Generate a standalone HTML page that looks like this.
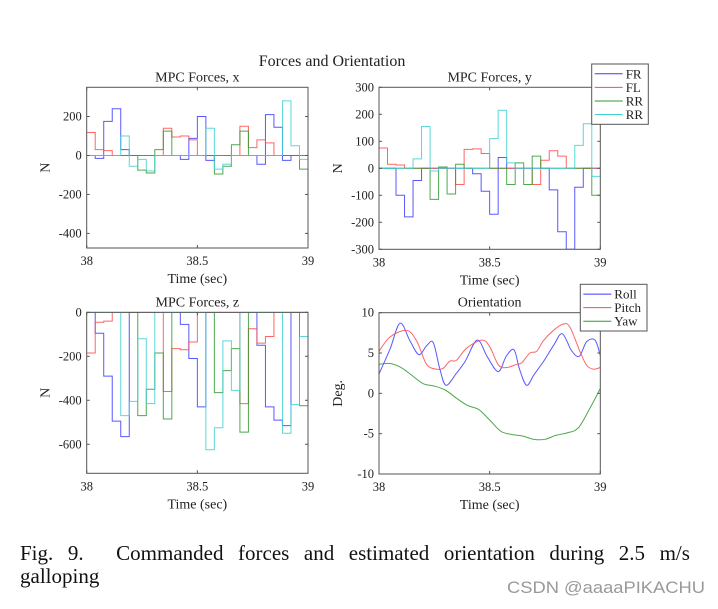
<!DOCTYPE html>
<html><head><meta charset="utf-8">
<style>
body{margin:0;background:#fff;width:718px;height:604px;overflow:hidden;font-family:"Liberation Serif",serif;position:relative;}
svg text{font-family:"Liberation Serif",serif;fill:#222;}
.cap{position:absolute;left:20px;width:670px;font-size:21px;line-height:23px;color:#111;white-space:nowrap;}
</style></head>
<body>
<svg id="fig" width="718" height="604" xmlns="http://www.w3.org/2000/svg">
<text x="332" y="66" font-size="16" text-anchor="middle">Forces and Orientation</text>
<text x="507" y="593" font-size="16.5" textLength="198" lengthAdjust="spacingAndGlyphs" style="font-family:'Liberation Sans',sans-serif;fill:#9a9a9a">CSDN @aaaaPIKACHU</text>
</svg>
<div class="cap" style="top:542px;display:flex;justify-content:space-between;">
<span>Fig.</span><span>9.</span><span style="margin-left:18px">Commanded</span><span>forces</span><span>and</span><span>estimated</span><span>orientation</span><span>during</span><span>2.5</span><span>m/s</span>
</div>
<div class="cap" style="top:565px;">galloping</div>
<script>
// ---- data (26 MPC segments over 38..39 s) ----
const xFR=[0,-15,175,240,30,0,0,0,0,0,0,-20,88,200,-25,0,0,0,0,0,-45,210,145,-25,0,0];
const xFL=[118,30,25,0,0,0,0,0,0,140,95,100,80,0,0,0,0,0,150,40,80,65,0,0,0,0];
const xRR=[0,0,0,0,0,0,-75,-90,30,125,0,0,0,0,0,-95,-55,55,125,0,0,0,0,0,0,-70];
const xRL=[0,0,0,0,100,-55,-20,-80,0,0,0,0,0,0,140,-70,-45,0,0,0,0,0,0,280,50,-20];
const yFR=[0,0,-100,-180,-45,0,0,0,0,0,0,-20,-85,-170,40,0,0,0,0,0,-80,-235,-300,-70,0,0];
const yFL=[75,15,12,0,0,0,0,0,0,-60,70,72,55,0,0,0,0,0,-60,30,65,45,0,0,0,0];
const yRR=[0,0,0,0,0,0,-115,5,-95,15,0,0,0,0,0,-60,20,-60,45,0,0,0,0,0,0,-100];
const yRL=[0,0,0,0,35,155,-10,0,0,0,0,0,0,110,215,20,0,0,0,0,0,0,0,85,165,-30];
const zFR=[0,-95,-290,-495,-565,0,0,0,0,0,0,-55,-210,-430,0,0,0,0,0,0,-150,-430,-490,-515,0,0];
const zFL=[-185,-45,-40,0,0,0,0,0,0,-360,-165,-170,-135,0,0,0,0,0,-415,-75,-140,-110,0,0,0,0];
const zRR=[0,0,0,0,0,0,-470,-350,-185,-485,0,0,0,0,0,-365,-265,-165,-545,0,0,0,0,0,0,-425];
const zRL=[0,0,0,0,-470,-405,-120,-415,0,0,0,0,0,0,-625,-525,-130,-355,0,0,0,0,0,-550,-420,-110];
const rollT=[0,0.05,0.095,0.14,0.18,0.215,0.245,0.275,0.303,0.35,0.39,0.444,0.49,0.539,0.575,0.61,0.635,0.667,0.7,0.742,0.79,0.828,0.87,0.905,0.938,0.976,1];
const rollV=[2.4,5.5,8.7,6.5,4.8,5.9,6.3,3,1,2.5,4,6.6,4.5,2.7,4.6,5.4,3,1,2.3,3.9,6,7.4,5.3,4.6,6.4,6.6,4.7];
const pitchT=[0,0.05,0.125,0.17,0.215,0.26,0.29,0.32,0.35,0.396,0.464,0.5,0.54,0.577,0.622,0.645,0.682,0.712,0.742,0.788,0.833,0.863,0.908,0.938,0.968,1];
const pitchV=[5.2,7,7.8,6.5,3.6,3,3.1,4,4.1,5.6,6.6,5.8,3.5,3.2,3.6,3.8,5,5.2,6.5,7.8,8.6,8.2,5.2,3.5,3,3.2];
const yawT=[0,0.05,0.1,0.15,0.2,0.25,0.3,0.35,0.4,0.45,0.5,0.55,0.6,0.65,0.7,0.75,0.8,0.85,0.9,0.95,1];
const yawV=[3.6,3.7,3.2,2.2,1.2,0.9,0.4,-0.6,-1.5,-2,-3.3,-4.7,-5.1,-5.3,-5.7,-5.7,-5.2,-4.9,-4.3,-2,0.6];
const xTicks=["38","38.5","39"];
const C={b:"#3b3bff",r:"#ff4a4a",g:"#2e9a2e",c:"#40d0d0"};
const NS="http://www.w3.org/2000/svg";
const svg=document.getElementById('fig');
function el(t,a,p){const e=document.createElementNS(NS,t);for(const k in a)e.setAttribute(k,a[k]);(p||svg).appendChild(e);return e;}
function axes(name,L,R,T,B,ymin,ymax,yticks,title,ylabel){
  const g=el('g',{});
  
  
  const sx=t=>L+(t)*(R-L), sy=v=>T+(ymax-v)/(ymax-ymin)*(B-T);
  el('rect',{x:L,y:T,width:R-L,height:B-T,fill:'#fff'},g);
  const plot=el('g',{},g);
  const clipId=name+'-clip';
  const cp=el('clipPath',{id:clipId},g);el('rect',{x:L,y:T,width:R-L,height:B-T},cp);
  plot.setAttribute('clip-path','url(#'+clipId+')');
  const frame=el('rect',{x:L,y:T,width:R-L,height:B-T,fill:'none',stroke:'#555','stroke-width':1},g);
  
  
  [0,0.5,1].forEach((t,i)=>{
    const x=sx(t);
    el('line',{x1:x,x2:x,y1:B,y2:B-3,stroke:'#555'},g);el('line',{x1:x,x2:x,y1:T,y2:T+3,stroke:'#555'},g);
    const tx=el('text',{x:x,y:B+17,'font-size':12.5,'text-anchor':'middle'},g);tx.textContent=xTicks[i];
    
    
  });
  yticks.forEach(v=>{
    const y=sy(v);
    el('line',{x1:L,x2:L+3,y1:y,y2:y,stroke:'#555'},g);el('line',{x1:R,x2:R-3,y1:y,y2:y,stroke:'#555'},g);
    const tx=el('text',{x:L-5,y:y+4,'font-size':12.5,'text-anchor':'end'},g);tx.textContent=String(v);
    
    
  });
  const tt=el('text',{x:(L+R)/2,y:T-6,'font-size':14,'text-anchor':'middle'},g);tt.textContent=title;
  
  
  const xl=el('text',{x:(L+R)/2,y:B+35,'font-size':14,'text-anchor':'middle'},g);xl.textContent='Time (sec)';
  
  
  const yx=L-37,yy=(T+B)/2;
  const yl=el('text',{x:yx,y:yy,'font-size':14,'text-anchor':'middle',transform:`rotate(-90 ${yx} ${yy})`},g);yl.textContent=ylabel;
  
  
  return {plot,sx,sy};
}
function steps(ax,vals,color,name){
  const n=vals.length;let d='';
  vals.forEach((v,i)=>{const x0=ax.sx(i/n),x1=ax.sx((i+1)/n),y=ax.sy(v);d+=(i?'L':'M')+x0+' '+y+' L'+x1+' '+y+' ';});
  const p=el('path',{d,fill:'none',stroke:color,'stroke-width':1,'stroke-opacity':0.85},ax.plot);
  
  
}
function curve(ax,T,V,color,name){
  const pts=T.map((t,i)=>[ax.sx(t),ax.sy(V[i])]);
  let d='M'+pts[0][0]+' '+pts[0][1];
  for(let i=0;i<pts.length-1;i++){
    const p0=pts[i-1]||pts[i],p1=pts[i],p2=pts[i+1],p3=pts[i+2]||p2;
    d+=` C${p1[0]+(p2[0]-p0[0])/6} ${p1[1]+(p2[1]-p0[1])/6} ${p2[0]-(p3[0]-p1[0])/6} ${p2[1]-(p3[1]-p1[1])/6} ${p2[0]} ${p2[1]}`;
  }
  const p=el('path',{d,fill:'none',stroke:color,'stroke-width':1,'stroke-opacity':0.85},ax.plot);
  
  
}
function legend(name,x,y,w,h,items){
  const g=el('g',{});
  
  
  el('rect',{x,y,width:w,height:h,fill:'#fff',stroke:'#555'},g);
  const step=(h-6)/items.length;
  items.forEach((it,i)=>{
    const cy=y+3+step*(i+0.5);
    el('line',{x1:x+3,x2:x+31,y1:cy,y2:cy,stroke:it[1]},g);
    const t=el('text',{x:x+34,y:cy+4.5,'font-size':13},g);t.textContent=it[0];
    
    
  });
}
const a1=axes('plot-forces-x',86.7,308,87.3,248,-475,350,[200,0,-200,-400],'MPC Forces, x','N');
steps(a1,xFR,C.b,'x-fr');steps(a1,xFL,C.r,'x-fl');steps(a1,xRR,C.g,'x-rr');steps(a1,xRL,C.c,'x-rl');
const a2=axes('plot-forces-y',379,600.3,87.3,249.3,-300,300,[300,200,100,0,-100,-200,-300],'MPC Forces, y','N');
steps(a2,yFR,C.b,'y-fr');steps(a2,yFL,C.r,'y-fl');steps(a2,yRR,C.g,'y-rr');steps(a2,yRL,C.c,'y-rl');
const a3=axes('plot-forces-z',86.7,308,312.3,473.3,-732,0,[0,-200,-400,-600],'MPC Forces, z','N');
steps(a3,zFR,C.b,'z-fr');steps(a3,zFL,C.r,'z-fl');steps(a3,zRR,C.g,'z-rr');steps(a3,zRL,C.c,'z-rl');
const a4=axes('plot-orientation',379,600.3,312.7,474,-10,10,[10,5,0,-5,-10],'Orientation','Deg.');
curve(a4,rollT,rollV,C.b,'roll-line');curve(a4,pitchT,pitchV,C.r,'pitch-line');curve(a4,yawT,yawV,C.g,'yaw-line');
legend('forces-legend',591.7,64,56.6,60.3,[['FR',C.b],['FL',C.r],['RR',C.g],['RR',C.c]]);
legend('orientation-legend',580.3,284.3,66.7,46.7,[['Roll',C.b],['Pitch',C.r],['Yaw',C.g]]);
</script>
</body></html>
